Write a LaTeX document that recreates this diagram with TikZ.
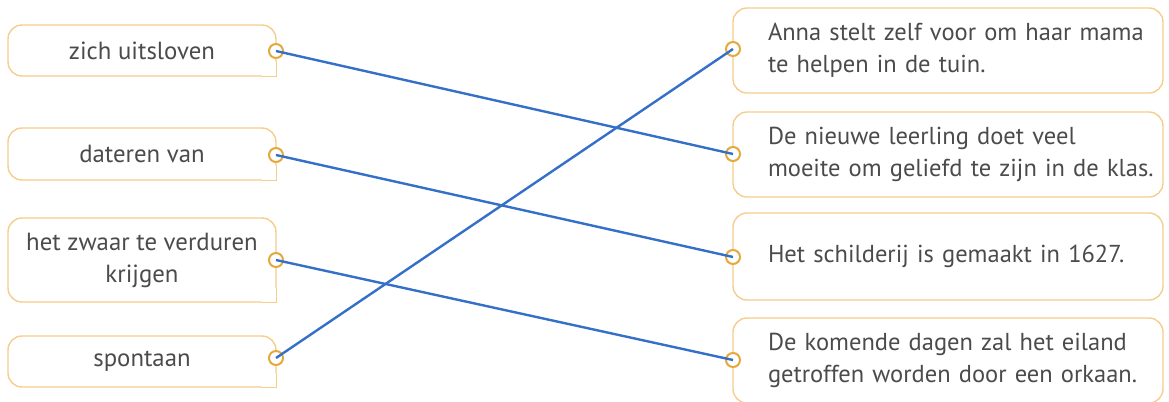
\documentclass[tikz,border=0pt]{standalone}
\usepackage{fontspec}
\setmainfont{PT Sans}
\definecolor{boxline}{RGB}{246,205,140}
\definecolor{dotline}{RGB}{228,168,60}
\definecolor{linkblue}{RGB}{52,112,200}
\definecolor{textgray}{RGB}{75,75,75}
\begin{document}
\begin{tikzpicture}[
			x=0.5pt, y=-0.5pt,
			% Define styles for nodes
			term/.style={draw=boxline, line width=0.7pt, rounded corners=7pt, fill=white,
				minimum width=134pt, align=center, text=textgray, inner sep=0pt,
				font=\fontsize{12.4}{16}\selectfont},
			zin/.style={draw=boxline, line width=0.7pt, rounded corners=7pt, fill=white,
				minimum height=42.5pt, text width=211pt, inner xsep=2pt, inner ysep=0pt,
				text=textgray, font=\fontsize{12.25}{16}\selectfont,
				execute at begin node={\raggedright\leftskip=15.5pt}},
			dot/.style={circle, draw=dotline, line width=1pt, fill=white, minimum size=7pt, inner sep=0pt},
			link/.style={draw=linkblue, line width=1.2pt}
		]
		\useasboundingbox (0,0) rectangle (1169,402);

		% Left column
		\node[term, minimum height=25.5pt] (zich) at (142,50.5) {zich uitsloven};
		\node[term, minimum height=26pt] (dateren) at (142,154) {dateren van};
		\node[term, minimum height=42pt] (zwaar) at (142,260) {het zwaar te verduren\\krijgen};
		\node[term, minimum height=25.5pt] (spontaan) at (142,361.5) {spontaan};

		% square bottom right corner on the left boxes
		\foreach \n in {zich,dateren,zwaar,spontaan} {
			\fill[white] ([xshift=-7.5pt,yshift=7.5pt]\n.south east) rectangle ([xshift=-0.36pt,yshift=0.36pt]\n.south east);
			\draw[boxline, line width=0.7pt] ([yshift=7.5pt]\n.south east) |- ([xshift=-7.5pt]\n.south east);
		}

		% Right column
		\node[zin] (anna) at (948,50.5) {Anna stelt zelf voor om haar mama\\te helpen in de tuin.};
		\node[zin] (leerling) at (948,154.5) {De nieuwe leerling doet veel\\moeite om geliefd te zijn in de klas.};
		\node[zin, minimum height=43.5pt] (schilderij) at (948,256.5) {Het schilderij is gemaakt in 1627.};
		\node[zin] (eiland) at (948,360.5) {De komende dagen zal het eiland\\getroffen worden door een orkaan.};

		% Connection points
		\node[dot] (d1) at (276,51) {};
		\node[dot] (d2) at (276,155) {};
		\node[dot] (d3) at (276,260) {};
		\node[dot] (d4) at (276,358) {};
		\node[dot] (a1) at (733,49) {};
		\node[dot] (a2) at (733,154) {};
		\node[dot] (a3) at (733,257) {};
		\node[dot] (a4) at (733,360) {};

		% Answers
		\draw[link] (d1.center) -- (a2.center);
		\draw[link] (d2.center) -- (a3.center);
		\draw[link] (d3.center) -- (a4.center);
		\draw[link] (d4.center) -- (a1.center);
	\end{tikzpicture}
\end{document}
